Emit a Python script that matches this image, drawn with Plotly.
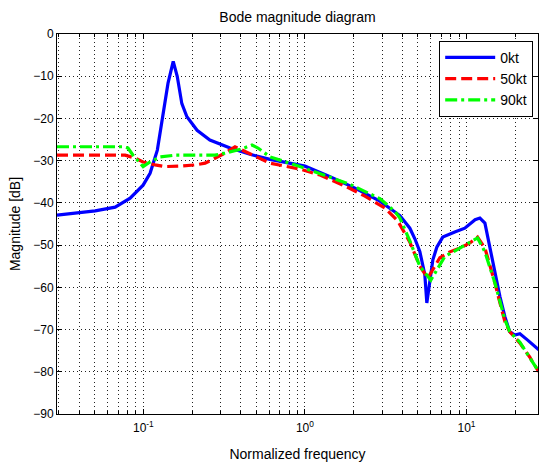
import plotly.graph_objects as go
import numpy as np

# Data (frequency normalized, magnitude in dB)
f_0kt = [0.0292, 0.0503, 0.0669, 0.0828, 0.0996, 0.110, 0.122, 0.132, 0.142, 0.153,
         0.162, 0.173, 0.186, 0.215, 0.258, 0.344, 0.457, 0.608, 0.700, 1.0, 1.43,
         2.04, 2.91, 3.87, 4.46, 4.79, 5.14, 5.52, 5.68, 5.93, 6.19, 6.55, 7.13, 8.46,
         9.76, 11.3, 12.1, 13.0, 13.9, 15.0, 16.1, 17.3, 18.5, 19.9, 21.4, 23.9, 28.0]
m_0kt = [-42.9, -41.9, -41.0, -38.9, -35.8, -33.0, -27.5, -18.8, -11.7, -6.5,
         -10.0, -16.5, -19.6, -22.8, -25.1, -27.0, -28.5, -29.7, -30.2, -31.3, -33.8,
         -36.5, -39.6, -43.0, -46.0, -48.5, -51.5, -57.0, -63.7, -59.0, -53.5, -50.5, -48.1, -46.9,
         -46.0, -44.0, -43.6, -44.8, -50.4, -56.6, -62.2, -67.0, -70.5, -71.3, -71.0, -72.5, -74.8]

f_50kt = [0.0292, 0.0771, 0.0889, 0.0996, 0.118, 0.136, 0.169, 0.209, 0.241, 0.277,
          0.320, 0.369, 0.457, 0.608, 0.931, 1.24, 1.77, 2.35, 3.12, 3.76, 4.46,
          5.14, 5.76, 6.19, 6.84, 7.88, 9.09, 10.5, 11.7, 13.0, 13.9, 15.0, 16.1,
          17.3, 18.5, 21.4, 24.6, 28.0]
m_50kt = [-28.7, -28.7, -29.4, -30.3, -31.0, -31.4, -31.3, -31.0, -30.6, -29.4,
          -28.2, -26.7, -28.4, -30.6, -32.0, -33.4, -36.0, -38.4, -41.2, -44.3, -49.3,
          -55.0, -57.8, -55.9, -53.0, -51.6, -50.7, -49.5, -48.1, -50.7, -54.3, -59.0, -63.7,
          -68.2, -70.5, -73.2, -76.5, -80.0]

f_90kt = [0.0292, 0.0740, 0.0803, 0.0863, 0.0954, 0.0996, 0.110, 0.127, 0.157, 0.277,
          0.320, 0.400, 0.470, 0.512, 0.608, 0.931, 1.90, 2.91, 3.60, 3.87, 4.46,
          5.14, 6.01, 6.55, 7.34, 9.09, 11.7, 13.0, 15.0, 17.3, 18.5, 21.4, 28.0]
m_90kt = [-26.7, -26.7, -27.0, -28.7, -30.6, -31.4, -30.3, -29.1, -28.7, -28.7,
          -28.2, -27.3, -26.3, -27.0, -29.1, -31.4, -35.6, -39.0, -42.0, -43.6, -49.0,
          -55.0, -58.3, -55.9, -52.7, -50.7, -48.3, -51.6, -59.0, -67.7, -70.5, -73.0, -80.0]

series_names = ["0kt", "50kt", "90kt"]

x_major = [0.1, 1, 10]
x_major_text = ["10<sup>-1</sup>", "10<sup>0</sup>", "10<sup>1</sup>"]
x_minor = [0.03, 0.04, 0.05, 0.06, 0.07, 0.08, 0.09,
           0.2, 0.3, 0.4, 0.5, 0.6, 0.7, 0.8, 0.9,
           2, 3, 4, 5, 6, 7, 8, 9, 20]
y_ticks = [-90, -80, -70, -60, -50, -40, -30, -20, -10, 0]

fig = go.Figure()
fig.add_trace(go.Scatter(x=f_0kt, y=m_0kt, mode="lines", name=series_names[0],
                         line=dict(color="#0000FF", width=3.2)))
fig.add_trace(go.Scatter(x=f_50kt, y=m_50kt, mode="lines", name=series_names[1],
                         line=dict(color="#FF0000", width=3.2, dash="11px,5px")))
fig.add_trace(go.Scatter(x=f_90kt, y=m_90kt, mode="lines", name=series_names[2],
                         line=dict(color="#00FF00", width=3.2, dash="12px,4px,3px,4px")))

font = "Liberation Sans, Arial, sans-serif"
grid = dict(showgrid=True, gridcolor="#222222", griddash="1px,3px", gridwidth=1)

fig.update_layout(
    width=539, height=462,
    margin=dict(l=57, r=1, t=34, b=48),
    paper_bgcolor="white", plot_bgcolor="white",
    font=dict(family=font, size=12, color="black"),
    title=dict(text="Bode magnitude diagram", x=0.552, xanchor="center",
               y=1 - 17 / 462, yanchor="middle", font=dict(size=14)),
    showlegend=True,
    legend=dict(x=0.99, xanchor="right", y=0.982, yanchor="top",
                bgcolor="white", bordercolor="black", borderwidth=1,
                font=dict(size=14), tracegroupgap=0, itemwidth=50),
    xaxis=dict(type="log", range=[np.log10(0.0292), np.log10(27.7)],
               tickmode="array", tickvals=x_major, ticktext=x_major_text,
               **grid,
               showline=True, linecolor="black", linewidth=1, mirror="ticks",
               ticks="inside", ticklen=5, tickcolor="black", ticklabelstandoff=3,
               minor=dict(tickmode="array", tickvals=x_minor, showgrid=True,
                          gridcolor="#222222", griddash="1px,3px", gridwidth=1,
                          ticks="inside", ticklen=3, tickcolor="black"),
               title=dict(text="Normalized frequency", standoff=14),
               zeroline=False),
    yaxis=dict(range=[-90, 0], tickmode="array", tickvals=y_ticks,
               **grid,
               showline=True, linecolor="black", linewidth=1, mirror="ticks",
               ticks="inside", ticklen=5, tickcolor="black",
               title=dict(text="Magnitude [dB]", standoff=9),
               zeroline=False),
)

fig.write_html("out.html")
